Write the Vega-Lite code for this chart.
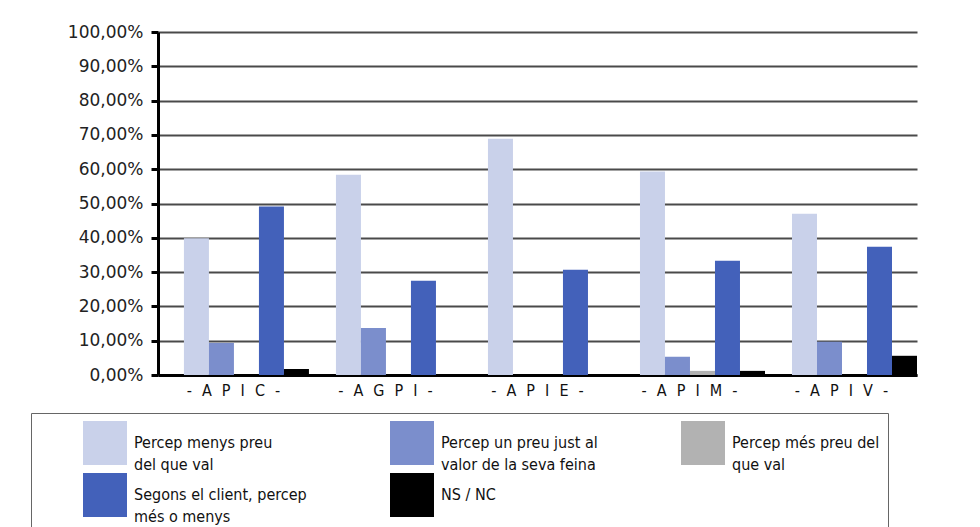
{
  "$schema": "https://vega.github.io/schema/vega-lite/v6.json",
  "width": 759,
  "height": 343,
  "autosize": {"type": "none"},
  "padding": {"left": 158, "top": 32, "right": 63, "bottom": 152},
  "background": "white",
  "data": {
    "values": [
      {"grup": "- A P I C -", "cat": "Percep menys preu del que val", "val": 0.399},
      {"grup": "- A P I C -", "cat": "Percep un preu just al valor de la seva feina", "val": 0.0935},
      {"grup": "- A P I C -", "cat": "Percep més preu del que val", "val": 0.0},
      {"grup": "- A P I C -", "cat": "Segons el client, percep més o menys", "val": 0.491},
      {"grup": "- A P I C -", "cat": "NS / NC", "val": 0.0175},
      {"grup": "- A G P I -", "cat": "Percep menys preu del que val", "val": 0.584},
      {"grup": "- A G P I -", "cat": "Percep un preu just al valor de la seva feina", "val": 0.137},
      {"grup": "- A G P I -", "cat": "Percep més preu del que val", "val": 0.0},
      {"grup": "- A G P I -", "cat": "Segons el client, percep més o menys", "val": 0.275},
      {"grup": "- A G P I -", "cat": "NS / NC", "val": 0.0},
      {"grup": "- A P I E -", "cat": "Percep menys preu del que val", "val": 0.689},
      {"grup": "- A P I E -", "cat": "Percep un preu just al valor de la seva feina", "val": 0.0},
      {"grup": "- A P I E -", "cat": "Percep més preu del que val", "val": 0.0},
      {"grup": "- A P I E -", "cat": "Segons el client, percep més o menys", "val": 0.307},
      {"grup": "- A P I E -", "cat": "NS / NC", "val": 0.0},
      {"grup": "- A P I M -", "cat": "Percep menys preu del que val", "val": 0.593},
      {"grup": "- A P I M -", "cat": "Percep un preu just al valor de la seva feina", "val": 0.053},
      {"grup": "- A P I M -", "cat": "Percep més preu del que val", "val": 0.012},
      {"grup": "- A P I M -", "cat": "Segons el client, percep més o menys", "val": 0.333},
      {"grup": "- A P I M -", "cat": "NS / NC", "val": 0.012},
      {"grup": "- A P I V -", "cat": "Percep menys preu del que val", "val": 0.47},
      {"grup": "- A P I V -", "cat": "Percep un preu just al valor de la seva feina", "val": 0.097},
      {"grup": "- A P I V -", "cat": "Percep més preu del que val", "val": 0.0},
      {"grup": "- A P I V -", "cat": "Segons el client, percep més o menys", "val": 0.374},
      {"grup": "- A P I V -", "cat": "NS / NC", "val": 0.056}
    ]
  },
  "mark": {"type": "bar"},
  "encoding": {
    "x": {
      "field": "grup",
      "type": "nominal",
      "sort": ["- A P I C -", "- A G P I -", "- A P I E -", "- A P I M -", "- A P I V -"],
      "scale": {"paddingInner": 0.1776, "paddingOuter": 0.0853, "align": 1},
      "axis": {
        "title": null,
        "labelAngle": 0,
        "ticks": false,
        "domainColor": "black",
        "domainWidth": 3,
        "labelFont": "DejaVu Sans Condensed, Liberation Sans, sans-serif",
        "labelFontSize": 16,
        "labelColor": "#111",
        "labelPadding": 7,
        "labelOffset": -13,
        "labelExpr": "join(split(datum.label, ' '), '\u2002\u2009')"
      }
    },
    "xOffset": {
      "field": "cat",
      "type": "nominal",
      "sort": ["Percep menys preu del que val", "Percep un preu just al valor de la seva feina", "Percep més preu del que val", "Segons el client, percep més o menys", "NS / NC"],
      "scale": {"paddingInner": 0, "paddingOuter": 0}
    },
    "y": {
      "field": "val",
      "type": "quantitative",
      "scale": {"domain": [0, 1], "nice": false},
      "axis": {
        "title": null,
        "values": [0, 0.1, 0.2, 0.3, 0.4, 0.5, 0.6, 0.7, 0.8, 0.9, 1],
        "labelExpr": "replace(format(datum.value, '.2%'), '.', ',')",
        "labelFont": "DejaVu Sans",
        "labelFontSize": 17,
        "labelColor": "#222",
        "labelPadding": 8,
        "domainColor": "black",
        "domainWidth": 3,
        "tickColor": "black",
        "tickWidth": 3,
        "tickSize": 7,
        "grid": true,
        "gridColor": "#4a4a4a",
        "gridWidth": 2
      }
    },
    "color": {
      "field": "cat",
      "type": "nominal",
      "sort": ["Percep menys preu del que val", "Percep un preu just al valor de la seva feina", "Percep més preu del que val", "Segons el client, percep més o menys", "NS / NC"],
      "scale": {"range": ["#C9D1EA", "#7B8ECC", "#B2B2B2", "#4361BA", "#000000"]},
      "legend": {
        "orient": "none",
        "direction": "horizontal",
        "legendX": -127,
        "legendY": 381,
        "title": "\u00a0",
        "titleOrient": "left",
        "titlePadding": 44,
        "columns": 3,
        "columnPadding": 83,
        "rowPadding": 0,
        "gridAlign": "each",
        "padding": 8,
        "strokeColor": "#666",
        "symbolType": "square",
        "symbolSize": 1936,
        "symbolStrokeWidth": 0,
        "symbolOpacity": 1,
        "labelFont": "DejaVu Sans Condensed, Liberation Sans, sans-serif",
        "labelFontSize": 16,
        "labelColor": "#111",
        "labelOffset": 7,
        "labelLimit": 300,
        "labelExpr": "datum.label == 'Percep menys preu del que val' ? ['Percep menys preu', 'del que val'] : datum.label == 'Percep un preu just al valor de la seva feina' ? ['Percep un preu just al', 'valor de la seva feina'] : datum.label == 'Percep més preu del que val' ? ['Percep més preu del', 'que val'] : datum.label == 'Segons el client, percep més o menys' ? ['Segons el client, percep', 'més o menys'] : datum.label"
      }
    }
  },
  "config": {
    "view": {"stroke": null},
    "style": {"guide-label": {"lineHeight": 22}}
  }
}
